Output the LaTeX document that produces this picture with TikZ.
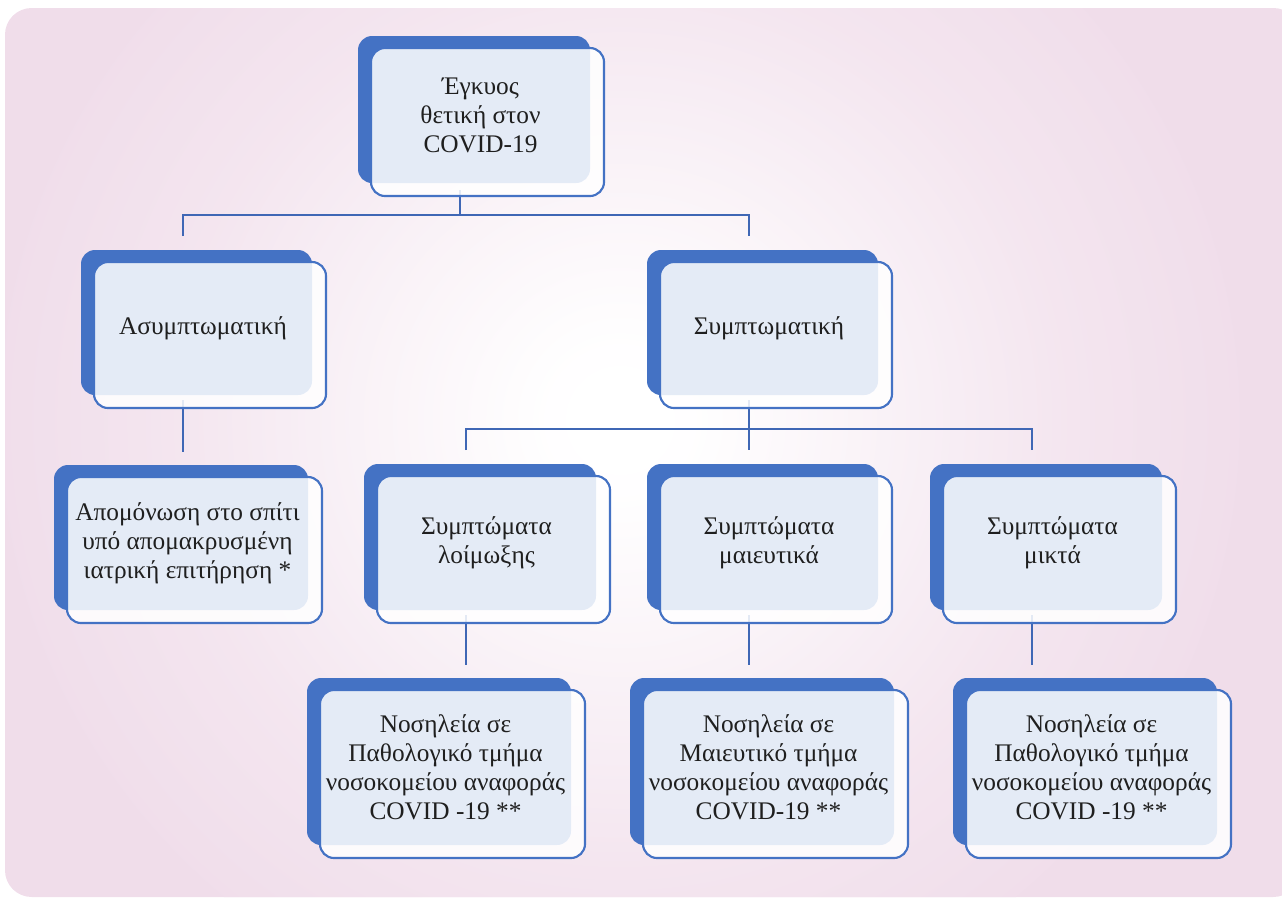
\documentclass[tikz,border=0pt]{standalone}
\usepackage{fontspec}
\setmainfont{Liberation Serif}
\definecolor{pinkbg}{HTML}{F0DDEA}
\definecolor{boxblue}{HTML}{4472C4}
\definecolor{linkblue}{HTML}{3F67B5}
\pgfdeclareradialshading{glow}{\pgfpoint{0bp}{0bp}}{color(0bp)=(white); color(3bp)=(white!98!pinkbg); color(9bp)=(white!70!pinkbg); color(18bp)=(white!25!pinkbg); color(26bp)=(pinkbg); color(50bp)=(pinkbg)}
\tikzset{
  backbox/.style={fill=boxblue, rounded corners=10.5pt},
  frontbox/.style={fill=white, fill opacity=0.86, draw=boxblue, draw opacity=1, line width=1.6pt, rounded corners=10.5pt},
  label/.style={align=center, text=black!88, font=\fontsize{19}{21.7}\selectfont, inner sep=0pt},
  link/.style={draw=linkblue, line width=2.2pt}
}
\newcommand{\gbox}[6]{%
  \fill[backbox] (#2,#3) rectangle (#4,#5);
  \filldraw[frontbox] (#2+13,#3+12) rectangle (#4+14,#5+13);
  \node[label] (#1) at ({(#2+13+#4)/2},{(#3+12+#5)/2}) {#6};
}
\begin{document}
\begin{tikzpicture}[x=0.75pt,y=-0.75pt]
\useasboundingbox (0,0) rectangle (1282,897);
\begin{scope}
  \clip[rounded corners=20pt] (5,8) rectangle (1300,897);
  \fill[pinkbg] (-10,-10) rectangle (1300,910);
  \shade[shading=glow] (620,420) circle[radius=620];
\end{scope}
% connector anchor coordinates
\coordinate (t0) at (460,190);
\coordinate (t1) at (460,215);
\coordinate (tl) at (183,215);
\coordinate (tr) at (749,215);
\coordinate (tl2) at (183,236);
\coordinate (tr2) at (749,236);
\coordinate (a0) at (183,400);
\coordinate (a1) at (183,452);
\coordinate (s0) at (749,400);
\coordinate (s1) at (749,429);
\coordinate (sl) at (466,429);
\coordinate (sr) at (1032,429);
\coordinate (sl2) at (466,450);
\coordinate (sm2) at (749,450);
\coordinate (sr2) at (1032,450);
\coordinate (l0) at (466,615);
\coordinate (l1) at (466,665);
\coordinate (m0) at (749,615);
\coordinate (m1) at (749,665);
\coordinate (r0) at (1032,615);
\coordinate (r1) at (1032,665);
\draw[link] (t0) -- (t1);
\draw[link] (tl2) -- (tl) -- (tr) -- (tr2);
\draw[link] (a0) -- (a1);
\draw[link] (s0) -- (s1);
\draw[link] (sl2) -- (sl) -- (sr) -- (sr2);
\draw[link] (s1) -- (sm2);
\draw[link] (l0) -- (l1);
\draw[link] (m0) -- (m1);
\draw[link] (r0) -- (r1);
% boxes
\gbox{top}{358}{36}{590}{183}{Έγκυος\\θετική στον\\COVID-19}
\gbox{asym}{81}{250}{312}{395}{Ασυμπτωματική}
\gbox{sym}{647}{250}{878}{395}{Συμπτωματική}
\gbox{iso}{54}{465}{308}{610}{Απομόνωση στο σπίτι\\υπό απομακρυσμένη\\ιατρική επιτήρηση *}
\gbox{inf}{364}{464}{596}{610}{Συμπτώματα\\λοίμωξης}
\gbox{obs}{647}{464}{878}{610}{Συμπτώματα\\μαιευτικά}
\gbox{mix}{930}{464}{1162}{610}{Συμπτώματα\\μικτά}
\gbox{hl}{307}{678}{571}{845}{Νοσηλεία σε\\Παθολογικό τμήμα\\νοσοκομείου αναφοράς\\COVID -19 **}
\gbox{hm}{630}{678}{894}{845}{Νοσηλεία σε\\Μαιευτικό τμήμα\\νοσοκομείου αναφοράς\\COVID-19 **}
\gbox{hr}{953}{678}{1217}{845}{Νοσηλεία σε\\Παθολογικό τμήμα\\νοσοκομείου αναφοράς\\COVID -19 **}
\end{tikzpicture}
\end{document}
